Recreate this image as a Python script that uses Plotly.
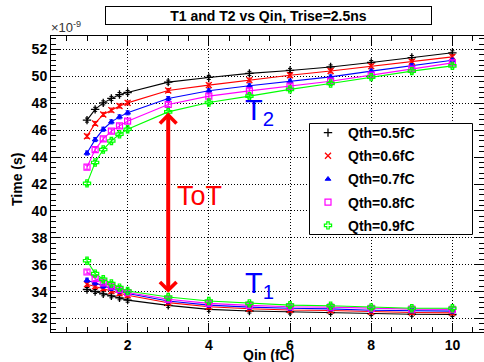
import plotly.graph_objects as go

# ---------------- data (Time in units of 1e-9 s) ----------------
qin = [1, 1.2, 1.4, 1.6, 1.8, 2, 3, 4, 5, 6, 7, 8, 9, 10]

t2_q05 = [46.75, 47.55, 48.03, 48.36, 48.65, 48.80, 49.57, 49.92, 50.22, 50.44, 50.70, 51.03, 51.40, 51.75]
t2_q06 = [45.55, 46.50, 47.17, 47.49, 47.80, 48.03, 48.95, 49.35, 49.72, 50.08, 50.40, 50.76, 51.08, 51.45]
t2_q07 = [44.30, 45.30, 46.07, 46.62, 46.99, 47.29, 48.35, 48.93, 49.30, 49.64, 49.96, 50.39, 50.80, 51.20]
t2_q08 = [43.25, 44.56, 45.35, 45.93, 46.32, 46.67, 47.91, 48.53, 48.92, 49.27, 49.64, 50.09, 50.54, 51.00]
t2_q09 = [42.05, 43.60, 44.56, 45.20, 45.70, 46.07, 47.36, 48.06, 48.53, 49.03, 49.47, 49.94, 50.39, 50.78]

t1_q05 = [34.16, 34.01, 33.84, 33.69, 33.54, 33.37, 32.98, 32.68, 32.56, 32.49, 32.45, 32.37, 32.32, 32.30]
t1_q06 = [34.55, 34.40, 34.23, 34.05, 33.88, 33.73, 33.18, 32.88, 32.73, 32.63, 32.60, 32.50, 32.45, 32.42]
t1_q07 = [34.85, 34.64, 34.40, 34.23, 34.03, 33.86, 33.30, 33.00, 32.85, 32.76, 32.72, 32.62, 32.57, 32.55]
t1_q08 = [35.46, 34.97, 34.65, 34.40, 34.16, 33.93, 33.43, 33.13, 32.98, 32.88, 32.85, 32.75, 32.70, 32.68]
t1_q09 = [36.30, 35.34, 34.92, 34.60, 34.30, 34.05, 33.60, 33.30, 33.13, 33.00, 32.95, 32.83, 32.76, 32.76]

t_err = 0.15

series_names = ["Qth=0.5fC", "Qth=0.6fC", "Qth=0.7fC", "Qth=0.8fC", "Qth=0.9fC"]
t2_all = [t2_q05, t2_q06, t2_q07, t2_q08, t2_q09]
t1_all = [t1_q05, t1_q06, t1_q07, t1_q08, t1_q09]

title_text = "T1 and T2 vs Qin, Trise=2.5ns"
x_title = "Qin (fC)"
y_title = "Time (s)"

# ---------------- styles ----------------
colors = ["#000000", "#ff0000", "#0000ff", "#ff00ff", "#00ff00"]
symbols = ["cross-thin", "x-thin", "triangle-up", "square-open", "cross-open"]
msizes = [6, 6, 5, 6, 6]
mlw = [1.3, 1.3, 1, 1.2, 1.2]

FONT = "Liberation Sans, Arial, Helvetica, sans-serif"
W, H = 484, 362
ML, MR, MT, MB = 51, 0, 36, 30
PW, PH = W - ML - MR, H - MT - MB


def px(xp):
    return (xp - ML) / PW


def py(yp):
    return (H - MB - yp) / PH


fig = go.Figure()

for i in range(5):
    for yv in (t2_all[i], t1_all[i]):
        fig.add_trace(go.Scatter(
            x=qin, y=yv, mode="lines",
            line=dict(color=colors[i], width=1.1),
            showlegend=False, hoverinfo="skip"))

for i in range(5):
    xs = qin + [None] + qin
    ys = t2_all[i] + [None] + t1_all[i]
    fig.add_trace(go.Scatter(
        x=xs, y=ys, mode="markers", name=series_names[i],
        legendgroup=series_names[i],
        marker=dict(symbol=symbols[i], size=msizes[i], color=colors[i],
                    line=dict(color=colors[i], width=mlw[i])),
        error_y=dict(type="constant", value=t_err, color=colors[i],
                     thickness=1, width=2)))

axis_common = dict(
    showline=True, linecolor="black", linewidth=1,
    ticks="inside", tickcolor="black", ticklen=9, tickwidth=1,
    showgrid=True, gridcolor="black", gridwidth=1, griddash="1px,2px",
    zeroline=False,
    tickfont=dict(family=FONT, size=14, color="black", weight="bold"),
)

fig.update_layout(
    width=W, height=H,
    margin=dict(l=ML, r=MR, t=MT, b=MB),
    paper_bgcolor="white", plot_bgcolor="white",
    font=dict(family=FONT, color="black"),
    xaxis=dict(range=[0.113, 0.113 + PW / 40.6], tick0=0, dtick=2,
               mirror="ticks",
               minor=dict(dtick=0.5, tick0=0, ticks="inside", ticklen=5,
                          tickcolor="black", showgrid=False),
               **axis_common),
    yaxis=dict(range=[31, 53], tick0=0, dtick=2, mirror=False,
               minor=dict(dtick=0.4, tick0=0, ticks="inside", ticklen=5,
                          tickcolor="black", showgrid=False),
               **axis_common),
    yaxis2=dict(overlaying="y", side="right", matches="y", range=[31, 53],
                tick0=0, dtick=2, showline=False, showgrid=False,
                showticklabels=False, ticks="inside", ticklen=9,
                tickcolor="black", zeroline=False,
                minor=dict(dtick=0.4, tick0=0, ticks="inside", ticklen=5,
                           tickcolor="black")),
    legend=dict(x=px(308), y=py(117), xanchor="left", yanchor="top",
                bgcolor="rgba(0,0,0,0)", borderwidth=0,
                font=dict(family=FONT, size=14, color="black", weight="bold"),
                traceorder="grouped", tracegroupgap=2),
    showlegend=True,
)

# dummy trace to activate yaxis2
fig.add_trace(go.Scatter(x=[None], y=[None], yaxis="y2", showlegend=False,
                         hoverinfo="skip"))

# legend frame
fig.add_shape(type="rect", xref="paper", yref="paper",
              x0=px(309.5), x1=px(472.5), y0=py(234.5), y1=py(123.5),
              line=dict(color="black", width=1), fillcolor="white",
              layer="above")

annotations = []
# title box
annotations.append(dict(
    text="<b>" + title_text + "</b>", xref="paper", yref="paper",
    x=px(268.5), y=py(15.5), xanchor="center", yanchor="middle",
    showarrow=False, font=dict(family=FONT, size=14, color="black"),
    bordercolor="black", borderwidth=1, bgcolor="white",
    width=323, height=15, borderpad=1))
# exponent
annotations.append(dict(
    text="×10<sup>-9</sup>", xref="paper", yref="paper",
    x=px(49), y=py(37), xanchor="left", yanchor="bottom",
    showarrow=False, font=dict(family=FONT, size=13, color="#333333")))
# axis titles
annotations.append(dict(
    text="<b>" + x_title + "</b>", xref="paper", yref="paper",
    x=px(268), y=py(354.5), xanchor="center", yanchor="middle",
    showarrow=False, font=dict(family=FONT, size=14, color="black")))
annotations.append(dict(
    text="<b>" + y_title + "</b>", xref="paper", yref="paper",
    x=px(17), y=py(180), xanchor="center", yanchor="middle", textangle=-90,
    showarrow=False, font=dict(family=FONT, size=14, color="black")))
# labels
annotations.append(dict(
    text="T<sub>2</sub>", xref="paper", yref="paper",
    x=px(243), y=py(112), xanchor="left", yanchor="middle",
    showarrow=False, font=dict(family=FONT, size=29, color="#0000ff")))
annotations.append(dict(
    text="T<sub>1</sub>", xref="paper", yref="paper",
    x=px(243), y=py(285), xanchor="left", yanchor="middle",
    showarrow=False, font=dict(family=FONT, size=29, color="#0000ff")))
annotations.append(dict(
    text="ToT", xref="paper", yref="paper",
    x=px(175), y=py(196), xanchor="left", yanchor="middle",
    showarrow=False, font=dict(family=FONT, size=27, color="#ff0000")))
# double arrow between T2 and T1 of Qth=0.9fC at Qin=3
idx = qin.index(3)
annotations.append(dict(
    x=3, y=t2_q09[idx] - 0.05, ax=3, ay=t1_q09[idx] + 0.2,
    xref="x", yref="y", axref="x", ayref="y", text="",
    showarrow=True, arrowhead=4, startarrowhead=4, arrowside="end+start",
    arrowsize=0.8, startarrowsize=0.8, arrowwidth=4, arrowcolor="#ff0000",
    standoff=0, startstandoff=0))

fig.update_layout(annotations=annotations)

fig.write_html(
    "out.html",
    config={"displayModeBar": False},
    post_script="document.body.style.margin='0';document.body.style.overflow='hidden';",
)
